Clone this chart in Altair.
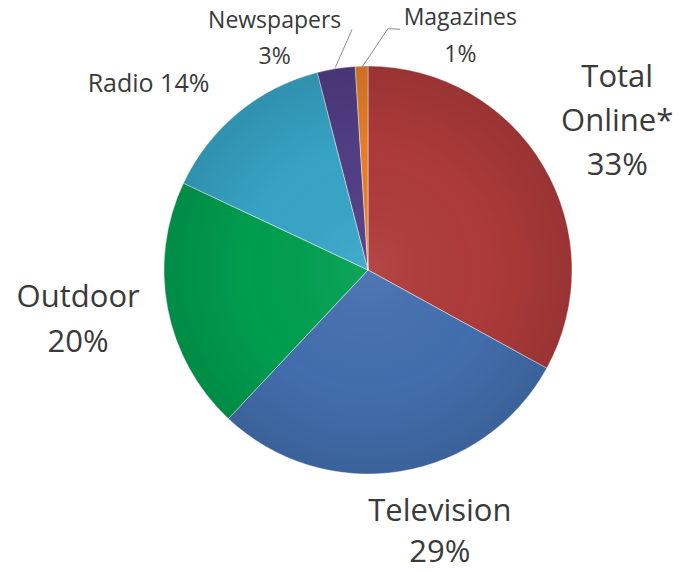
import altair as alt
import pandas as pd

categories = ["Total Online*", "Television", "Outdoor", "Radio", "Newspapers", "Magazines"]
shares = [33, 29, 20, 14, 3, 1]
label_texts = [["Total", "Online*", "33%"], ["Television", "29%"], ["Outdoor", "20%"],
               ["Radio 14%"], ["Newspapers", "3%"], ["Magazines", "1%"]]
colors = ["#b03b3b", "#4470b0", "#00a050", "#38a6c8", "#523e86", "#e8802a"]

df = pd.DataFrame({"cat": categories, "share": shares, "order": list(range(len(categories)))})

CX, CY, R = 360, 262, 204
FONT = "Open Sans"
TXT = "#3a3a3a"

theta = alt.Theta("share:Q", stack=True, scale=alt.Scale(domain=[0, 100]))
order = alt.Order("order:Q")

pie = alt.Chart(df).mark_arc(radius=R, stroke="#ffffff", strokeWidth=0.6, strokeOpacity=0.8).encode(
    theta=theta,
    order=order,
    color=alt.Color("cat:N", scale=alt.Scale(domain=categories, range=colors), legend=None),
    x=alt.value(CX), y=alt.value(CY),
)

# subtle radial shading: lighter near the centre, darker at the rim
shade_df = pd.DataFrame({"v": [1]})
shade = alt.Chart(shade_df).mark_circle(
    size=(2 * R) ** 2,
    opacity=1,
    strokeWidth=0,
    color=alt.RadialGradient(
        gradient="radial",
        stops=[
            alt.GradientStop(offset=0, color="rgba(255,255,255,0.06)"),
            alt.GradientStop(offset=0.6, color="rgba(0,0,0,0.02)"),
            alt.GradientStop(offset=1, color="rgba(0,0,0,0.13)"),
        ],
        x1=0.5, y1=0.5, r1=0, x2=0.5, y2=0.5, r2=0.5,
    ),
).encode(x=alt.value(CX), y=alt.value(CY))

# label layout: (radius, dx, dy, fontSize, lineHeight)
layout = {
    "Total Online*": (300, -9, -30, 31, 44),
    "Television": (255, 32, -1, 31, 41),
    "Outdoor": (290, -5, -17, 31, 45),
    "Radio": (280, -41, 38, 25, 30),
    "Newspapers": (245, -55, 0, 23, 36),
    "Magazines": (245, 100, 0, 23, 37),
}

layers = [pie, shade]
for cat, txt in zip(categories, label_texts):
    r, dx, dy, fs, lh = layout[cat]
    d = df.copy()
    d["label"] = [txt if c == cat else [""] for c in categories]
    t = alt.Chart(d).mark_text(
        radius=r, dx=dx, dy=dy, fontSize=fs, lineHeight=lh, font=FONT,
        color=TXT, align="center", baseline="alphabetic",
    ).encode(theta=theta, order=order, text="label", x=alt.value(CX), y=alt.value(CY))
    layers.append(t)

# leader lines for the two small slices, as polar points (angle deg, radius)
lead_group = ["Newspapers", "Newspapers", "Magazines", "Magazines", "Magazines"]
lead_angle = [350.8, 356.2, 358.3, 4.7, 7.6]
lead_radius = [205, 241, 203, 242, 243]
lead_step = [0, 1, 0, 1, 2]
ld = pd.DataFrame({"g": lead_group, "a": lead_angle, "r": lead_radius, "s": lead_step})
leaders = alt.Chart(ld).transform_calculate(
    px=f"{CX} + datum.r * sin(datum.a * PI / 180)",
    py=f"{CY} - datum.r * cos(datum.a * PI / 180)",
).mark_line(color="#8c8c8c", strokeWidth=1).encode(
    x=alt.X("px:Q", scale=None, axis=None),
    y=alt.Y("py:Q", scale=None, axis=None),
    detail="g:N",
    order="s:Q",
)
layers.append(leaders)

chart = alt.layer(*layers).properties(
    width=665, height=556, padding=0, background="#ffffff",
    autosize=alt.AutoSizeParams(type="none"),
).configure_view(stroke=None)

chart.save("out.html", embed_options={"renderer": "svg", "actions": False})
